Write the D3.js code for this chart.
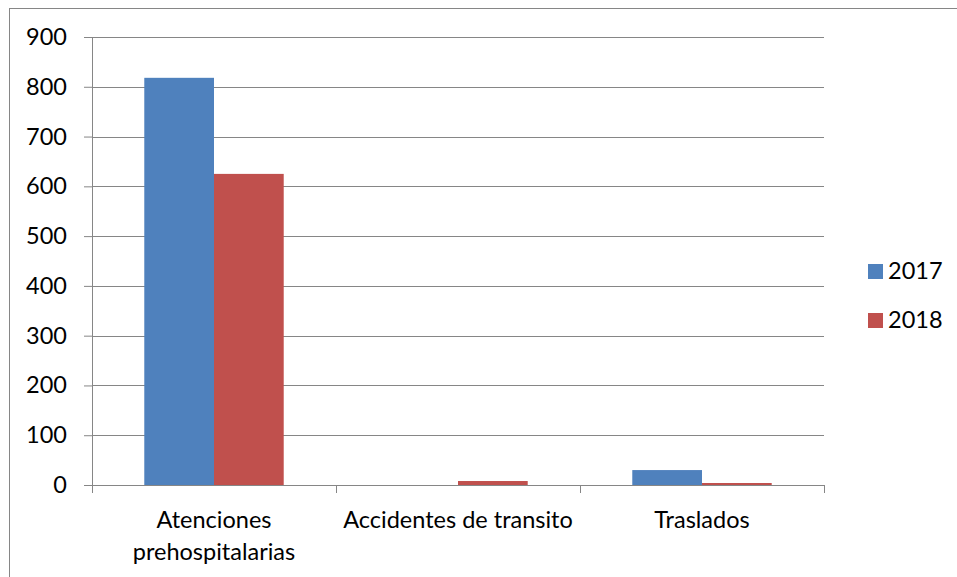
<!DOCTYPE html>
<html>
<head>
  <meta charset="utf-8">
  <script src="https://d3js.org/d3.v7.min.js"></script>
  <style>
    body { margin: 0; background: #fff; }
    text { font-family: Lato, 'Open Sans', sans-serif; font-size: 23.5px; fill: #000; }
  </style>
</head>
<body>
  <svg id="chart" width="957" height="577"></svg>
  <script>
    var categories = [['Atenciones', 'prehospitalarias'], ['Accidentes de transito'], ['Traslados']];
    var series = ['2017', '2018'];
    var values2017 = [818, 0, 30];
    var values2018 = [625, 8, 4];
    var yTicks = [0, 100, 200, 300, 400, 500, 600, 700, 800, 900];
    var colors = ['#4F81BD', '#C0504D'];

    var chart = d3.select('#chart');
    var margin = { top: 37, left: 92, right: 133, bottom: 92 };
    var width = 957 - margin.left - margin.right;
    var height = 577 - margin.top - margin.bottom;

    // outer frame
    chart.append('rect')
      .attr('x', 9.5).attr('y', 8.5)
      .attr('width', 960).attr('height', 580)
      .attr('fill', 'none').attr('stroke', '#868686');

    var g = chart.append('g')
      .attr('transform', 'translate(' + margin.left + ',' + margin.top + ')');

    var x = d3.scaleBand().domain(d3.range(categories.length)).range([0, width]);
    var y = d3.scaleLinear().domain([0, 900]).range([height, 0]);
    var inner = d3.scaleBand().domain(series)
      .range([0, x.bandwidth()]).paddingOuter(0.75);

    // gridlines
    g.selectAll('.grid').data(yTicks.slice(1)).enter().append('line')
      .attr('x1', 0).attr('x2', width)
      .attr('y1', d => Math.round(y(d)) + 0.5).attr('y2', d => Math.round(y(d)) + 0.5)
      .attr('stroke', '#868686');

    // bars
    var data = [values2017, values2018];
    data.forEach((vals, s) => {
      g.selectAll('.bar' + s).data(vals).enter().append('rect')
        .attr('x', (d, i) => x(i) + inner(series[s]))
        .attr('width', inner.bandwidth())
        .attr('y', d => y(d))
        .attr('height', d => height - y(d))
        .attr('fill', colors[s]);
    });

    // y axis
    var yAxis = g.append('g')
      .call(d3.axisLeft(y).tickValues(yTicks).tickSize(8).tickPadding(17).tickFormat(d3.format('d')));
    yAxis.select('.domain').attr('stroke', '#868686').attr('d', 'M0.5,0V' + height);
    yAxis.selectAll('.tick line').attr('stroke', '#868686');
    yAxis.selectAll('text').style('font-size', '23.5px').style('font-family', 'Lato, sans-serif').attr('fill', '#000');

    // x axis
    var xAxis = g.append('g').attr('transform', 'translate(0,' + height + ')');
    xAxis.append('line').attr('x1', 0).attr('x2', width).attr('y1', 0.5).attr('y2', 0.5)
      .attr('stroke', '#868686');
    xAxis.selectAll('.xt').data(d3.range(categories.length + 1)).enter().append('line')
      .attr('x1', d => Math.round(d * x.step()) + 0.5).attr('x2', d => Math.round(d * x.step()) + 0.5)
      .attr('y1', 0).attr('y2', 8).attr('stroke', '#868686');
    xAxis.selectAll('.xl').data(categories).enter().append('text')
      .attr('text-anchor', 'middle')
      .attr('transform', (d, i) => 'translate(' + (x(i) + x.bandwidth() / 2) + ',43)')
      .each(function (d) {
        d3.select(this).selectAll('tspan').data(d).enter().append('tspan')
          .attr('x', 0).attr('dy', (t, j) => j === 0 ? 0 : 32).text(t => t);
      });

    // legend
    var legend = chart.append('g').attr('transform', 'translate(868,264)');
    series.forEach((s, i) => {
      var row = legend.append('g').attr('transform', 'translate(0,' + i * 49 + ')');
      row.append('rect').attr('width', 15).attr('height', 15).attr('fill', colors[i]);
      row.append('text').attr('x', 20).attr('y', 15).text(s);
    });
  </script>
</body>
</html>
